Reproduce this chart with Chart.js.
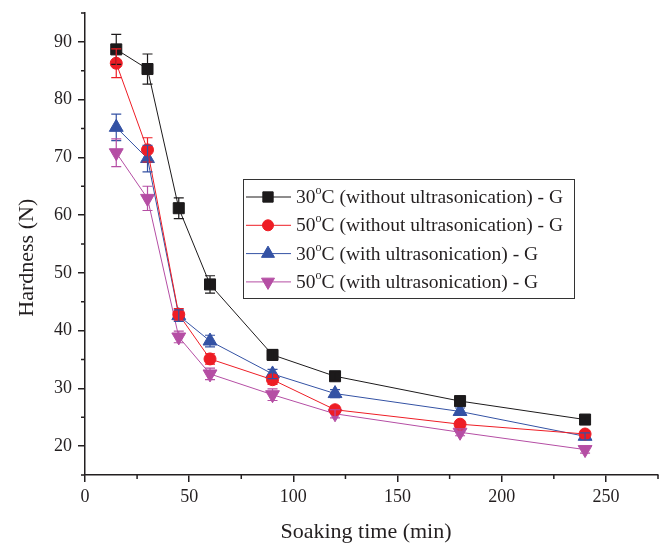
<!DOCTYPE html>
<html>
<head>
<meta charset="utf-8">
<script src="https://cdn.jsdelivr.net/npm/chart.js@4"></script>
<style>
    html, body { margin: 0; padding: 0; background: #fff; overflow: hidden; }
    #wrap { width: 662px; height: 544px; }
    canvas { display: block; }
</style>
</head>
<body>
<div id="wrap"><canvas id="hardnessChart"></canvas></div>
<script>
// Hardness vs soaking time

const soakTimes = [15, 30, 45, 60, 90, 120, 180, 240];

const hard30 = [88.7, 85.3, 61.2, 48.0, 35.8, 32.1, 27.8, 24.6];
const hard50 = [86.3, 71.3, 42.8, 35.1, 31.5, 26.3, 23.8, 22.1];
const hard30Us = [75.2, 69.8, 42.6, 38.2, 32.5, 29.1, 26.0, 21.7];
const hard50Us = [70.8, 62.9, 38.9, 32.5, 28.9, 25.6, 22.4, 19.4];

const err30 = [2.6, 2.6, 1.8, 1.5, 0.9, 0.7, 0.5, 0.5];
const err50 = [2.5, 2.1, 1.0, 0.9, 0.8, 0.6, 0.5, 0.5];
const err30Us = [2.3, 2.3, 1.0, 1.0, 0.8, 0.7, 0.6, 0.6];
const err50Us = [2.4, 2.1, 1.0, 1.0, 1.0, 0.7, 0.6, 0.6];

const seriesTemps = ['30', '50', '30', '50'];
const seriesDesc = [
    'C (without ultrasonication) - G',
    'C (without ultrasonication) - G',
    'C (with ultrasonication) - G',
    'C (with ultrasonication) - G'
];

const xTicks = [0, 50, 100, 150, 200, 250];
const xMinor = [25, 75, 125, 175, 225, 275];
const yTicks = [20, 30, 40, 50, 60, 70, 80, 90];
const yMinor = [15, 25, 35, 45, 55, 65, 75, 85, 95];

const axisColor = '#231f20';
const serif = "'Liberation Serif', 'Times New Roman', serif";

function pts(vals) {
    return vals.map((v, i) => ({ x: soakTimes[i], y: v }));
}

function makeSet(vals, errs, color, style, rot, radius) {
    return {
        data: pts(vals),
        errors: errs,
        borderColor: color,
        backgroundColor: color,
        pointBackgroundColor: color,
        pointBorderColor: color,
        borderWidth: 1,
        pointStyle: style,
        pointRotation: rot,
        pointRadius: radius,
        pointBorderWidth: 1,
        tension: 0,
        fill: false
    };
}

const datasets = [
    makeSet(hard30, err30, '#1c1a1b', 'rect', 0, 7.8),
    makeSet(hard50, err50, '#ee1d25', 'circle', 0, 6),
    makeSet(hard30Us, err30Us, '#3452a4', 'triangle', 0, 8),
    makeSet(hard50Us, err50Us, '#b54ea4', 'triangle', 180, 8)
];

// error bars, drawn through the scales
const errorBars = {
    id: 'errorBars',
    afterDatasetsDraw(chart) {
        const { ctx, scales: { x, y } } = chart;
        chart.data.datasets.forEach(ds => {
            ctx.save();
            ctx.strokeStyle = ds.borderColor;
            ctx.lineWidth = 1.2;
            ds.data.forEach((p, j) => {
                const e = ds.errors[j];
                const px = x.getPixelForValue(p.x);
                const top = y.getPixelForValue(p.y + e);
                const bot = y.getPixelForValue(p.y - e);
                ctx.beginPath();
                ctx.moveTo(px, top); ctx.lineTo(px, bot);
                ctx.moveTo(px - 5, top); ctx.lineTo(px + 5, top);
                ctx.moveTo(px - 5, bot); ctx.lineTo(px + 5, bot);
                ctx.stroke();
            });
            ctx.restore();
        });
    }
};

// minor ticks on both axes
const minorTicks = {
    id: 'minorTicks',
    afterDraw(chart) {
        const { ctx, chartArea, scales: { x, y } } = chart;
        ctx.save();
        ctx.strokeStyle = axisColor;
        ctx.lineWidth = 1.5;
        ctx.beginPath();
        xMinor.forEach(v => {
            const px = x.getPixelForValue(v);
            ctx.moveTo(px, chartArea.bottom);
            ctx.lineTo(px, chartArea.bottom + 4);
        });
        yMinor.forEach(v => {
            const py = y.getPixelForValue(v);
            ctx.moveTo(chartArea.left, py);
            ctx.lineTo(chartArea.left - 4, py);
        });
        ctx.stroke();
        ctx.restore();
    }
};

// framed legend inside the plot
const boxLegend = {
    id: 'boxLegend',
    afterDraw(chart) {
        const { ctx, chartArea } = chart;
        const left = chartArea.left + 158;
        const top = chartArea.top + 166;
        const w = 331, h = 119, rowH = 28.3;
        ctx.save();
        ctx.fillStyle = '#fff';
        ctx.fillRect(left, top, w, h);
        ctx.strokeStyle = '#333';
        ctx.lineWidth = 1;
        ctx.strokeRect(left + 0.5, top + 0.5, w, h);

        chart.data.datasets.forEach((ds, i) => {
            const cy = top + 18 + i * rowH;
            ctx.strokeStyle = ds.borderColor;
            ctx.fillStyle = ds.borderColor;
            ctx.lineWidth = 1;
            ctx.beginPath();
            ctx.moveTo(left + 3, cy);
            ctx.lineTo(left + 48, cy);
            ctx.stroke();
            Chart.helpers.drawPoint(ctx, {
                pointStyle: ds.pointStyle,
                rotation: ds.pointRotation,
                radius: ds.pointRadius - 0.5,
                borderWidth: 1
            }, left + 25, cy);

            ctx.fillStyle = axisColor;
            ctx.textBaseline = 'middle';
            ctx.font = '19.5px ' + serif;
            let tx = left + 53;
            ctx.fillText(seriesTemps[i], tx, cy + 1);
            tx += ctx.measureText(seriesTemps[i]).width;
            ctx.font = '12px ' + serif;
            ctx.fillText('o', tx, cy - 6);
            tx += ctx.measureText('o').width;
            ctx.font = '19.5px ' + serif;
            ctx.fillText(seriesDesc[i], tx, cy + 1);
        });
        ctx.restore();
    }
};

new Chart(document.getElementById('hardnessChart'), {
    type: 'line',
    data: { datasets: datasets },
    plugins: [errorBars, minorTicks, boxLegend],
    options: {
        responsive: true,
        maintainAspectRatio: false,
        animation: false,
        layout: { autoPadding: false, padding: { top: 13, right: 4, left: 0, bottom: 0 } },
        plugins: {
            legend: { display: false },
            tooltip: { enabled: false }
        },
        scales: {
            x: {
                type: 'linear',
                min: 0,
                max: 275,
                afterBuildTicks: s => { s.ticks = xTicks.map(v => ({ value: v })); },
                afterFit: s => { s.height = 69; s.paddingLeft = 0; s.paddingRight = 0; },
                border: { color: axisColor, width: 1.5 },
                grid: { drawOnChartArea: false, color: axisColor, lineWidth: 1.5, tickLength: 7 },
                ticks: { color: axisColor, font: { family: serif, size: 18 }, padding: 4, maxRotation: 0 },
                title: {
                    display: true,
                    // trailing spaces nudge the centred title left, as in the source figure
                    text: 'Soaking time (min)  ',
                    color: axisColor,
                    font: { family: serif, size: 22 },
                    padding: { top: 4, bottom: -1 }
                }
            },
            y: {
                min: 15,
                max: 95,
                afterBuildTicks: s => { s.ticks = yTicks.map(v => ({ value: v })); },
                afterFit: s => { s.width = 85; s.paddingTop = 0; s.paddingBottom = 0; },
                border: { color: axisColor, width: 1.5 },
                grid: { drawOnChartArea: false, color: axisColor, lineWidth: 1.5, tickLength: 7 },
                ticks: { color: axisColor, font: { family: serif, size: 18 }, padding: 6 },
                title: {
                    display: true,
                    // trailing spaces move the rotated title a little lower
                    text: 'Hardness (N)     ',
                    color: axisColor,
                    font: { family: serif, size: 22 },
                    padding: { top: 14, bottom: 4 }
                }
            }
        }
    }
});
</script>
</body>
</html>
